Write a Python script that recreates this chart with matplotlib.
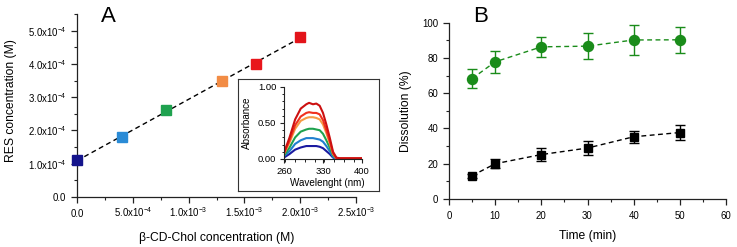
import matplotlib
matplotlib.use('Agg')
import numpy as np
import matplotlib.pyplot as plt
from matplotlib.ticker import FixedLocator, MultipleLocator

plt.rcParams['font.family'] = ['Liberation Sans', 'DejaVu Sans']
plt.rcParams['mathtext.fontset'] = 'custom'
plt.rcParams['mathtext.rm'] = 'Liberation Sans'
plt.rcParams['mathtext.it'] = 'Liberation Sans:italic'
plt.rcParams['mathtext.bf'] = 'Liberation Sans:bold'
plt.rcParams['mathtext.default'] = 'regular'

# ---------------- data ----------------
# Panel A: phase solubility
cd_conc = [0.0, 4.0e-4, 8.0e-4, 1.3e-3, 1.6e-3, 2.0e-3]
res_conc = [1.1e-4, 1.8e-4, 2.6e-4, 3.5e-4, 4.0e-4, 4.8e-4]
point_colors = ['#14148c', '#2a8bd6', '#1fa24f', '#f28c45', '#e8161c', '#e3141a']

a_xticks = [0.0, 5.0e-4, 1.0e-3, 1.5e-3, 2.0e-3, 2.5e-3]
a_xticklabels = ['0.0', r'$5.0x10^{-4}$', r'$1.0x10^{-3}$', r'$1.5x10^{-3}$',
                 r'$2.0x10^{-3}$', r'$2.5x10^{-3}$']
a_yticks = [0.0, 1.0e-4, 2.0e-4, 3.0e-4, 4.0e-4, 5.0e-4]
a_yticklabels = ['0.0', r'$1.0x10^{-4}$', r'$2.0x10^{-4}$', r'$3.0x10^{-4}$',
                 r'$4.0x10^{-4}$', r'$5.0x10^{-4}$']

# Inset: absorbance spectra
wavelength = [260, 270, 280, 290, 300, 305, 312, 318, 324, 330, 336, 342, 348, 354, 360, 380, 400]
abs_navy   = [0.02, 0.07, 0.13, 0.16, 0.18, 0.18, 0.18, 0.18, 0.17, 0.15, 0.11, 0.07, 0.02, 0.00, 0.00, 0.00, 0.00]
abs_blue   = [0.04, 0.11, 0.21, 0.26, 0.29, 0.29, 0.29, 0.28, 0.27, 0.24, 0.18, 0.11, 0.03, 0.00, 0.00, 0.00, 0.00]
abs_green  = [0.05, 0.16, 0.30, 0.38, 0.41, 0.42, 0.42, 0.41, 0.40, 0.35, 0.26, 0.16, 0.05, 0.01, 0.00, 0.00, 0.00]
abs_orange = [0.07, 0.23, 0.42, 0.53, 0.57, 0.58, 0.58, 0.57, 0.55, 0.48, 0.36, 0.22, 0.07, 0.01, 0.00, 0.00, 0.00]
abs_red    = [0.08, 0.26, 0.47, 0.59, 0.64, 0.65, 0.64, 0.64, 0.62, 0.54, 0.40, 0.25, 0.08, 0.01, 0.01, 0.01, 0.01]
abs_dred   = [0.09, 0.30, 0.55, 0.70, 0.76, 0.78, 0.76, 0.77, 0.74, 0.64, 0.48, 0.30, 0.10, 0.02, 0.01, 0.01, 0.01]
spectra = [abs_navy, abs_blue, abs_green, abs_orange, abs_red, abs_dred]
spectra_colors = ['#1a1aa0', '#1f7fcf', '#1fa24f', '#f59a45', '#f0301e', '#cc1010']

# Panel B: dissolution
time_min = [5, 10, 20, 30, 40, 50]
diss_complex = [68.3, 77.8, 86.3, 86.7, 90.2, 90.3]
diss_complex_err = [5.5, 6.3, 5.8, 7.5, 8.3, 7.3]
diss_res = [13.2, 20.0, 25.2, 28.9, 35.3, 37.7]
diss_res_err = [1.2, 2.5, 3.5, 4.0, 3.4, 4.2]

# ---------------- figure ----------------
W, H = 737, 247
fig = plt.figure(figsize=(W / 100, H / 100), dpi=100)


def rect(x0, y0, x1, y1):
    """pixel box (top-left origin) -> figure fraction rect"""
    return [x0 / W, 1 - y1 / H, (x1 - x0) / W, (y1 - y0) / H]


TICK_FS = 6.9
LABEL_FS = 8.7

# ---------- Panel A ----------
axA = fig.add_axes(rect(77, 14, 356, 197))
fit = np.polyfit(cd_conc, res_conc, 1)
xfit = np.array([min(cd_conc), max(cd_conc)])
axA.plot(xfit, np.polyval(fit, xfit), ls=(0, (3.5, 2.5)), color='black', lw=1.0, zorder=2)
for xv, yv, c in zip(cd_conc, res_conc, point_colors):
    axA.plot([xv], [yv], marker='s', ms=6.8, color=c, mec=c, ls='none', zorder=3, clip_on=False)
axA.set_xlim(0, 2.5e-3)
axA.set_ylim(0, 5.5e-4)
axA.xaxis.set_major_locator(FixedLocator(a_xticks))
axA.set_xticklabels(a_xticklabels)
axA.yaxis.set_major_locator(FixedLocator(a_yticks))
axA.set_yticklabels(a_yticklabels)
axA.xaxis.set_minor_locator(MultipleLocator(2.5e-4))
axA.yaxis.set_minor_locator(MultipleLocator(0.5e-4))
for s in ['top', 'right']:
    axA.spines[s].set_visible(False)
for s in ['left', 'bottom']:
    axA.spines[s].set_linewidth(0.9)
    axA.spines[s].set_color('#222222')
axA.tick_params(which='major', direction='out', length=4.2, width=0.9, labelsize=TICK_FS, color='#222222')
axA.tick_params(which='minor', direction='out', length=2.4, width=0.8, color='#222222')
axA.tick_params(axis='y', which='major', pad=3.5)
axA.tick_params(axis='x', which='major', pad=10.5)
for lbl in axA.get_xticklabels():
    lbl.set_verticalalignment('baseline')

# inset frame
axF = fig.add_axes(rect(238.3, 79, 379, 190.7))
axF.set_xticks([])
axF.set_yticks([])
for s in axF.spines.values():
    s.set_linewidth(0.8)
    s.set_color('#333333')

# inset axes
axI = fig.add_axes(rect(284, 87, 362, 159))
axI.patch.set_alpha(0)
for ys, c in zip(spectra, spectra_colors):
    axI.plot(wavelength, ys, color=c, lw=1.5)
axI.set_xlim(260, 400)
axI.set_ylim(0, 1.0)
axI.set_xticks([260, 330, 400])
axI.set_yticks([0.0, 0.5, 1.0])
axI.set_yticklabels(['0.00', '0.50', '1.00'])
axI.xaxis.set_minor_locator(MultipleLocator(17.5))
axI.yaxis.set_minor_locator(MultipleLocator(0.1))
for s in ['top', 'right']:
    axI.spines[s].set_visible(False)
for s in ['left', 'bottom']:
    axI.spines[s].set_linewidth(0.8)
    axI.spines[s].set_color('#222222')
axI.tick_params(which='major', direction='out', length=3, width=0.8, labelsize=6.8, pad=2.5, color='#222222')
axI.tick_params(which='minor', direction='out', length=1.8, width=0.7, color='#222222')

fig.text(247.3 / W, 1 - 123 / H, 'Absorbance', rotation=90, ha='center', va='center', fontsize=7.1)
fig.text(327.5 / W, 1 - 185.5 / H, 'Wavelenght (nm)', ha='center', va='baseline', fontsize=7.1)

# axis labels A
fig.text(10.7 / W, 1 - 100.8 / H, 'RES concentration (M)', rotation=90, ha='center', va='center', fontsize=LABEL_FS)
fig.text(216.7 / W, 1 - 240.5 / H, 'β-CD-Chol concentration (M)', ha='center', va='baseline', fontsize=LABEL_FS)
fig.text(108.7 / W, 1 - 22 / H, 'A', ha='center', va='baseline', fontsize=16)

# ---------- Panel B ----------
green = '#1a8c1a'
axB = fig.add_axes(rect(449, 22.7, 726, 199))
axB.errorbar(time_min, diss_complex, yerr=diss_complex_err, fmt='o', ls=(0, (3.5, 2.5)),
             color=green, mfc=green, mec=green, ms=7.2, lw=1.0, elinewidth=1.0,
             capsize=3.5, capthick=1.0, zorder=3)
axB.errorbar(time_min, diss_res, yerr=diss_res_err, fmt='s', ls=(0, (3.5, 2.5)),
             color='black', mfc='black', mec='black', ms=5.8, lw=1.0, elinewidth=1.0,
             capsize=3.5, capthick=1.0, zorder=3)
axB.set_xlim(0, 60)
axB.set_ylim(0, 100)
axB.xaxis.set_major_locator(MultipleLocator(10))
axB.yaxis.set_major_locator(MultipleLocator(20))
axB.xaxis.set_minor_locator(MultipleLocator(5))
axB.yaxis.set_minor_locator(MultipleLocator(10))
for s in ['top', 'right']:
    axB.spines[s].set_visible(False)
for s in ['left', 'bottom']:
    axB.spines[s].set_linewidth(0.9)
    axB.spines[s].set_color('#222222')
axB.tick_params(which='major', direction='out', length=4.2, width=0.9, labelsize=TICK_FS, color='#222222')
axB.tick_params(which='minor', direction='out', length=2.4, width=0.8, color='#222222')
axB.tick_params(axis='y', which='major', pad=3.5)
axB.tick_params(axis='x', which='major', pad=4.5)

fig.text(406 / W, 1 - 110.7 / H, 'Dissolution (%)', rotation=90, ha='center', va='center', fontsize=LABEL_FS)
fig.text(588 / W, 1 - 239.3 / H, 'Time (min)', ha='center', va='baseline', fontsize=LABEL_FS)
fig.text(480.5 / W, 1 - 22.5 / H, 'B', ha='center', va='baseline', fontsize=16)

fig.savefig('out.png', dpi=100)
